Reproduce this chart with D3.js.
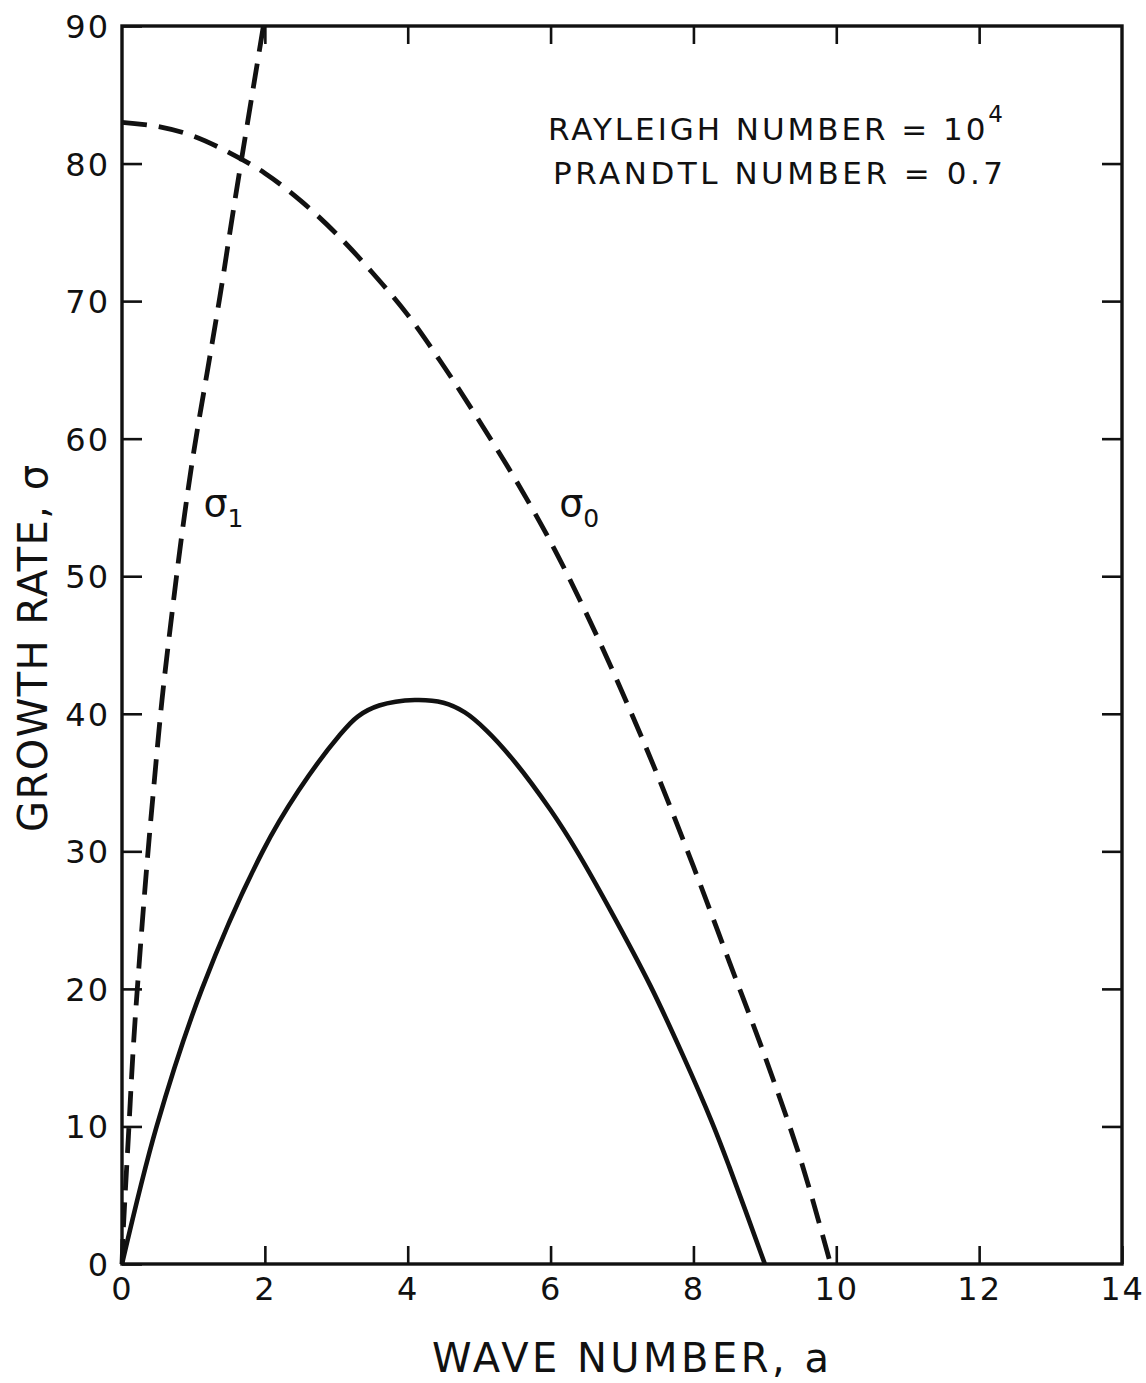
<!DOCTYPE html>
<html>
<head>
<meta charset="utf-8">
<script src="https://cdn.jsdelivr.net/npm/d3@7"></script>
<style>
  html, body { margin: 0; padding: 0; background: #fff; }
  svg { display: block; }
  text { font-family: "DejaVu Sans", sans-serif; fill: #111; }
</style>
</head>
<body>
<svg id="chart" width="1146" height="1383"></svg>
<script>
// Wave number a (x) and growth rate sigma (y)
const xTicks = [0, 2, 4, 6, 8, 10, 12, 14];
const yTicks = [0, 10, 20, 30, 40, 50, 60, 70, 80, 90];

// Solid curve: growth rate of the disturbance
const solidWave   = [0, 0.485, 1.12, 1.97, 2.47, 3.04, 3.3, 3.6, 4.1, 4.5, 4.8, 5.1, 5.5, 6.0, 6.37, 6.85, 7.4, 7.85, 8.26, 8.5, 9.0];
const solidGrowth = [0, 10, 20, 30, 34.4, 38.4, 39.8, 40.6, 41.0, 40.8, 40.1, 38.8, 36.5, 33.0, 30, 25.6, 20.2, 15.2, 10.3, 7.1, 0];

// Dashed curve sigma_0
const sigma0Wave   = [0, 0.5, 1.0, 1.5, 2.0, 2.5, 3.0, 3.5, 4.0, 4.5, 5.0, 5.5, 6.0, 6.5, 7.0, 7.5, 8.0, 8.5, 9.0, 9.5, 9.92];
const sigma0Growth = [83.0, 82.7, 82.0, 80.8, 79.3, 77.3, 74.9, 72.1, 69.0, 65.3, 61.3, 57.1, 52.5, 47.3, 41.6, 35.5, 28.9, 22.0, 15.1, 7.6, 0];

// Dashed curve sigma_1
const sigma1Wave   = [0, 0.02, 0.09, 0.16, 0.25, 0.35, 0.44, 0.56, 0.70, 0.84, 1.0, 1.19, 1.37, 1.58, 1.98];
const sigma1Growth = [0, 2.7, 9.3, 15.9, 22.5, 29.1, 34.4, 41, 47.3, 53.1, 58.9, 64.75, 70.3, 77.3, 90];

const svg = d3.select("#chart");
const L = 122, R = 1122, T = 26, B = 1264;

const x = d3.scaleLinear().domain([0, 14]).range([L, R]);
const y = d3.scaleLinear().domain([0, 90]).range([B, T]);

// axes with inward ticks
const axisBottomG = svg.append("g").attr("transform", `translate(0,${B})`)
  .call(d3.axisBottom(x).tickValues(xTicks).tickSize(-18).tickSizeOuter(0).tickPadding(13)
        .tickFormat(d3.format("d")));
const axisLeftG = svg.append("g").attr("transform", `translate(${L},0)`)
  .call(d3.axisLeft(y).tickValues(yTicks).tickSize(-20).tickSizeOuter(0).tickPadding(12)
        .tickFormat(d3.format("d")));
const axisTopG = svg.append("g").attr("transform", `translate(0,${T})`)
  .call(d3.axisTop(x).tickValues(xTicks.slice(1, -1)).tickSize(-18).tickSizeOuter(0).tickFormat(""));
const axisRightG = svg.append("g").attr("transform", `translate(${R},0)`)
  .call(d3.axisRight(y).tickValues(yTicks.slice(1, -1)).tickSize(-20).tickSizeOuter(0).tickFormat(""));

[axisBottomG, axisLeftG, axisTopG, axisRightG].forEach(g => {
  g.select(".domain").remove();
  g.selectAll(".tick line").attr("stroke", "#111").attr("stroke-width", 2.6);
  g.selectAll(".tick text").attr("font-size", 32).attr("letter-spacing", 2)
    .attr("font-family", "DejaVu Sans").attr("fill", "#111");
});
axisLeftG.selectAll(".tick text").attr("dy", "0.36em");

// frame
svg.append("rect")
  .attr("x", L).attr("y", T).attr("width", R - L).attr("height", B - T)
  .attr("fill", "none").attr("stroke", "#111").attr("stroke-width", 3.4);

const line = d3.line().x(d => x(d[0])).y(d => y(d[1])).curve(d3.curveCatmullRom.alpha(0.5));
const plotCurve = (ws, gs, dashed, width) =>
  svg.append("path")
    .datum(ws.map((w, i) => [w, gs[i]]))
    .attr("d", line)
    .attr("fill", "none")
    .attr("stroke", "#111")
    .attr("stroke-width", width)
    .attr("stroke-dasharray", dashed ? "25,12" : null);

plotCurve(solidWave, solidGrowth, false, 4.6);
plotCurve(sigma0Wave, sigma0Growth, true, 4.8);
plotCurve(sigma1Wave, sigma1Growth, true, 4.8);

// curve labels
const curveLabel = (px, py, sub) => {
  const t = svg.append("text").attr("x", px).attr("y", py).attr("font-size", 38);
  t.append("tspan").text("σ");
  t.append("tspan").attr("font-size", 25).attr("dy", 11).text(sub);
};
curveLabel(x(1.14), y(54.4), "1");
curveLabel(x(6.12), y(54.4), "0");

// parameter annotation
const note1 = svg.append("text").attr("x", 548).attr("y", 140).attr("font-size", 31)
  .attr("textLength", 455).attr("lengthAdjust", "spacing");
note1.append("tspan").text("RAYLEIGH NUMBER = 10");
note1.append("tspan").attr("font-size", 23).attr("dy", -18).text("4");
svg.append("text").attr("x", 553).attr("y", 184).attr("font-size", 31)
  .attr("textLength", 450).attr("lengthAdjust", "spacing")
  .text("PRANDTL NUMBER = 0.7");

// axis titles
svg.append("text").attr("x", 432).attr("y", 1372).attr("font-size", 40)
  .attr("textLength", 397).attr("lengthAdjust", "spacing")
  .text("WAVE NUMBER, a");
svg.append("text").attr("transform", "translate(47,832) rotate(-90)")
  .attr("font-size", 40).attr("textLength", 367).attr("lengthAdjust", "spacing")
  .text("GROWTH RATE, σ");
</script>
</body>
</html>
